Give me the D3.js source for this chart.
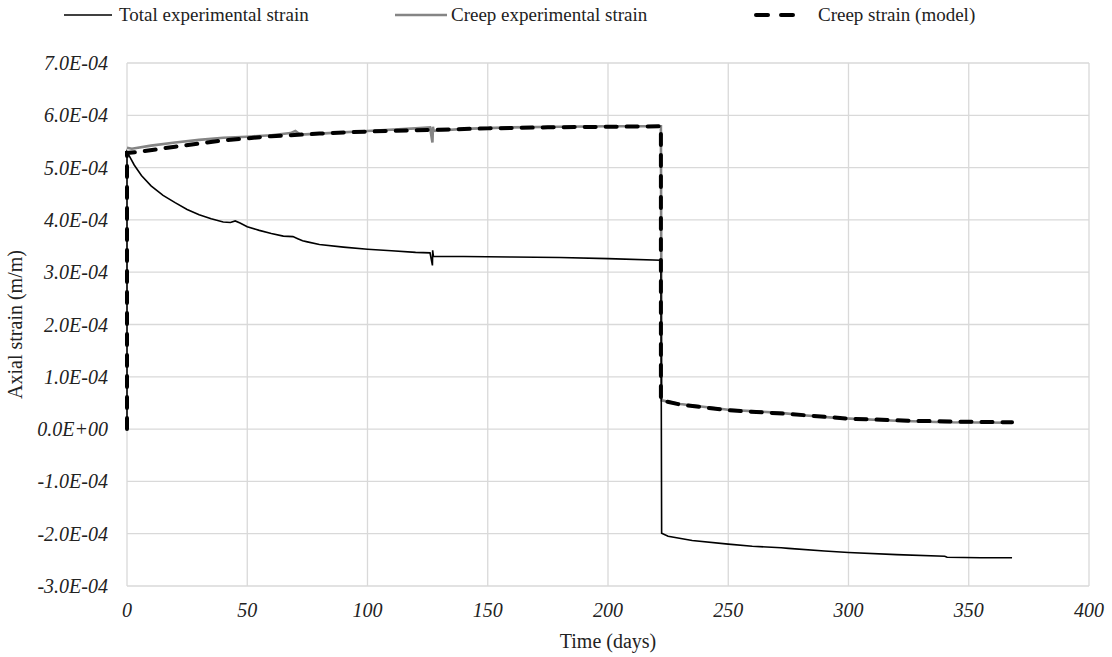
<!DOCTYPE html>
<html>
<head>
<meta charset="utf-8">
<script src="https://cdn.jsdelivr.net/npm/d3@7"></script>
<style>
  html, body { margin: 0; padding: 0; background: #fff; }
  svg { display: block; }
</style>
</head>
<body>
<div id="chart"></div>
<script>
// Axial strain vs time chart - values in units of 1e-4 m/m

const seriesNames = ['Total experimental strain', 'Creep experimental strain', 'Creep strain (model)'];
const xTicks = [0, 50, 100, 150, 200, 250, 300, 350, 400];
const yTicks = [-3, -2, -1, 0, 1, 2, 3, 4, 5, 6, 7];

// [day, strain x1e-4]
const totalStrain = [
  [0, 0], [0, 5.3], [1, 5.22], [3, 5.05], [6, 4.85], [10, 4.65], [15, 4.47], [20, 4.33],
  [25, 4.2], [30, 4.1], [35, 4.02], [40, 3.96], [43, 3.95], [45, 3.98], [47, 3.94],
  [50, 3.87], [55, 3.8], [60, 3.74], [65, 3.69], [69, 3.68], [71, 3.64], [73, 3.6],
  [75, 3.58], [80, 3.53], [90, 3.48], [100, 3.44], [110, 3.41], [120, 3.38], [126, 3.37],
  [127, 3.13], [127.1, 3.42], [127.4, 3.3], [140, 3.3], [160, 3.29], [180, 3.28],
  [200, 3.26], [222, 3.23], [222.3, -1.99], [225, -2.05], [235, -2.13], [250, -2.2],
  [260, -2.24], [272, -2.27], [275, -2.28], [290, -2.33], [300, -2.36], [320, -2.4],
  [340, -2.43], [341, -2.45], [355, -2.46], [368, -2.46]
];

const creepStrain = [
  [0, 5.38], [2, 5.36], [10, 5.42], [20, 5.48], [30, 5.53], [40, 5.57], [50, 5.59],
  [60, 5.62], [68, 5.66], [70, 5.7], [72, 5.63], [80, 5.65], [100, 5.7], [120, 5.75],
  [126, 5.77], [127, 5.48], [127.2, 5.78], [127.5, 5.7], [140, 5.74], [160, 5.77],
  [180, 5.78], [200, 5.79], [222, 5.79], [222.3, 0.55], [230, 0.48], [250, 0.37],
  [272, 0.31], [280, 0.27], [296, 0.21], [320, 0.16], [340, 0.13], [368, 0.12]
];

const modelStrain = [
  [0, 0], [0, 5.28], [5, 5.3], [20, 5.4], [40, 5.52], [60, 5.6], [80, 5.65], [100, 5.69],
  [125, 5.72], [150, 5.75], [175, 5.77], [200, 5.78], [222, 5.79], [222, 0.55],
  [230, 0.47], [250, 0.36], [275, 0.29], [300, 0.2], [325, 0.16], [350, 0.14], [368, 0.13]
];

const width = 1112;
const height = 657;
const margin = { top: 63, right: 23, bottom: 71, left: 127 };
const FONT = '"Liberation Serif", "Times New Roman", serif';

const svg = d3.select('#chart')
  .append('svg')
  .attr('width', width)
  .attr('height', height);

const x = d3.scaleLinear().domain([0, 400]).range([margin.left, width - margin.right]);
const y = d3.scaleLinear().domain([-3, 7]).range([height - margin.bottom, margin.top]);

// Gridlines
svg.append('g')
  .selectAll('line.h')
  .data(yTicks)
  .enter()
  .append('line')
  .attr('x1', x(0))
  .attr('x2', x(400))
  .attr('y1', d => y(d))
  .attr('y2', d => y(d))
  .attr('stroke', '#d9d9d9')
  .attr('stroke-width', 1.3);

svg.append('g')
  .selectAll('line.v')
  .data(xTicks)
  .enter()
  .append('line')
  .attr('x1', d => x(d))
  .attr('x2', d => x(d))
  .attr('y1', y(-3))
  .attr('y2', y(7))
  .attr('stroke', '#d9d9d9')
  .attr('stroke-width', 1.3);

// Tick labels
const fmt = d => (d === 0 ? '0.0E+00' : (d < 0 ? '-' : '') + Math.abs(d).toFixed(1) + 'E-04');

svg.append('g')
  .selectAll('text')
  .data(yTicks)
  .enter()
  .append('text')
  .attr('x', x(0) - 19)
  .attr('y', d => y(d) + 7)
  .attr('text-anchor', 'end')
  .attr('font-family', FONT)
  .attr('font-style', 'italic')
  .attr('font-size', '20px')
  .attr('fill', '#222')
  .text(fmt);

svg.append('g')
  .selectAll('text')
  .data(xTicks)
  .enter()
  .append('text')
  .attr('x', d => x(d))
  .attr('y', y(-3) + 31)
  .attr('text-anchor', 'middle')
  .attr('font-family', FONT)
  .attr('font-style', 'italic')
  .attr('font-size', '20px')
  .attr('fill', '#222')
  .text(d => d);

// Axis titles
svg.append('text')
  .attr('x', (x(0) + x(400)) / 2)
  .attr('y', 648)
  .attr('text-anchor', 'middle')
  .attr('font-family', FONT)
  .attr('font-size', '20px')
  .attr('fill', '#222')
  .text('Time (days)');

svg.append('text')
  .attr('transform', `translate(22, ${(y(-3) + y(7)) / 2}) rotate(-90)`)
  .attr('text-anchor', 'middle')
  .attr('font-family', FONT)
  .attr('font-size', '20px')
  .attr('fill', '#222')
  .text('Axial strain (m/m)');

// Lines
const line = d3.line().x(d => x(d[0])).y(d => y(d[1]));

svg.append('path')
  .datum(creepStrain)
  .attr('d', line)
  .attr('fill', 'none')
  .attr('stroke', '#858585')
  .attr('stroke-width', 2.6);

svg.append('path')
  .datum(totalStrain)
  .attr('d', line)
  .attr('fill', 'none')
  .attr('stroke', '#000')
  .attr('stroke-width', 1.6);

svg.append('path')
  .datum(modelStrain)
  .attr('d', line)
  .attr('fill', 'none')
  .attr('stroke', '#000')
  .attr('stroke-width', 4)
  .attr('stroke-linecap', 'round')
  .attr('stroke-dasharray', '11,10');

// Legend
const legendItems = [
  { name: seriesNames[0], x0: 64, x1: 112, tx: 119, stroke: '#000', w: 1.6, dash: null, cap: 'butt' },
  { name: seriesNames[1], x0: 395, x1: 447, tx: 451, stroke: '#858585', w: 2.6, dash: null, cap: 'butt' },
  { name: seriesNames[2], x0: 756, x1: 803, tx: 818, stroke: '#000', w: 4, dash: '12,13', cap: 'round' }
];

const legend = svg.append('g')
  .selectAll('g')
  .data(legendItems)
  .enter()
  .append('g');

legend.append('line')
  .attr('x1', d => d.x0)
  .attr('x2', d => d.x1)
  .attr('y1', 15)
  .attr('y2', 15)
  .attr('stroke', d => d.stroke)
  .attr('stroke-width', d => d.w)
  .attr('stroke-linecap', d => d.cap)
  .attr('stroke-dasharray', d => d.dash);

legend.append('text')
  .attr('x', d => d.tx)
  .attr('y', 21)
  .attr('font-family', FONT)
  .attr('font-size', '19px')
  .attr('fill', '#222')
  .text(d => d.name);
</script>
</body>
</html>
